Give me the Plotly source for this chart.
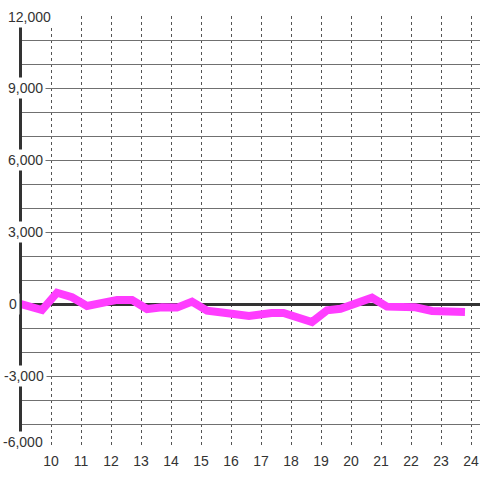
import plotly.graph_objects as go

# ---- data ----
hours = [9.0, 9.7, 10.2, 10.7, 11.2, 11.7, 12.2, 12.7, 13.2, 13.7, 14.2, 14.7,
         15.2, 15.7, 16.6, 17.35, 17.75, 18.7, 19.2, 19.65, 20.7, 21.2, 22.15,
         22.7, 23.8]
values = [0, -250, 470, 280, -80, 70, 170, 170, -210, -140, -150, 100,
          -280, -350, -500, -375, -375, -750, -265, -200, 260, -110, -140,
          -290, -330]
x_ticks = list(range(10, 25))
y_ticks = [12000, 9000, 6000, 3000, 0, -3000, -6000]
y_tick_labels = ["12,000", "9,000", "6,000", "3,000", "0", "-3,000", "-6,000"]

# ---- layout / style ----
FONT = "Liberation Sans, Arial, sans-serif"
TXT = "#333333"
PLOT_LEFT_PX = 22
label_left_px = {"12,000": 7, "9,000": 7, "6,000": 7, "3,000": 7, "0": 8,
                 "-3,000": 2.5, "-6,000": 2}
label_yshift = {"12,000": -1, "-6,000": 6}
PAD = 2

fig = go.Figure()
fig.add_trace(go.Scatter(
    x=hours, y=values, mode="lines",
    line=dict(color="#ff3dff", width=8),
    hoverinfo="skip", showlegend=False,
))

annotations = []
for v, t in zip(y_ticks, y_tick_labels):
    annotations.append(dict(
        xref="paper", yref="y", x=0, y=v, xanchor="left", yanchor="middle",
        xshift=label_left_px[t] - PAD - PLOT_LEFT_PX,
        yshift=label_yshift.get(t, 0),
        text=t, showarrow=False, bgcolor="white", borderpad=PAD,
        font=dict(family=FONT, size=14, color=TXT),
    ))

fig.update_layout(
    width=480, height=480,
    margin=dict(l=PLOT_LEFT_PX, r=0, t=16, b=32, pad=0),
    paper_bgcolor="white", plot_bgcolor="white",
    showlegend=False,
    annotations=annotations,
    xaxis=dict(
        range=[9 + 1 / 30, 24.3],
        tickmode="array", tickvals=x_ticks,
        ticktext=[str(v) for v in x_ticks],
        showgrid=True, gridcolor="#555555", gridwidth=1, griddash="dot",
        zeroline=False, showline=False, ticks="",
        ticklabelstandoff=3,
        tickfont=dict(family=FONT, size=14, color=TXT),
        fixedrange=True,
    ),
    yaxis=dict(
        range=[-6000, 12000],
        tickmode="linear", tick0=0, dtick=1000,
        showticklabels=False,
        showgrid=True, gridcolor="#707070", gridwidth=1,
        zeroline=True, zerolinecolor="#333333", zerolinewidth=3,
        showline=True, linecolor="#333333", linewidth=3,
        ticks="", fixedrange=True,
    ),
)

fig.write_html(
    "out.html",
    config={"displayModeBar": False},
    post_script="document.body.style.margin='0';document.body.style.overflow='hidden';",
)
